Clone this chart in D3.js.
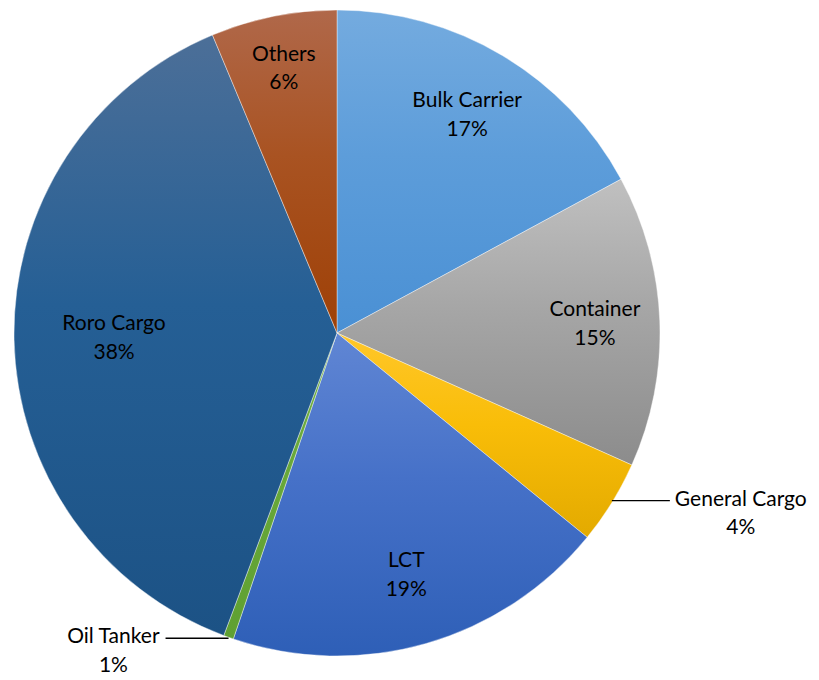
<!DOCTYPE html>
<html>
<head>
<meta charset="utf-8">
<script src="https://cdn.jsdelivr.net/npm/d3@7"></script>
<style>
  body { margin: 0; background: #fff; }
  svg text { font-family: Lato, "Open Sans", sans-serif; fill: #000; }
</style>
</head>
<body>
<div id="chart"></div>
<script>
// Chart data: share of vessel types (percent)
var categories = ["Bulk Carrier", "Container", "General Cargo", "LCT", "Oil Tanker", "Roro Cargo", "Others"];
var shares = [17.1, 14.6, 4.2, 19.3, 0.5, 38.0, 6.3];
var outsideLabels = ["General Cargo", "Oil Tanker"];

// gradient stops (top, middle, bottom) for each slice
var colorTop = ["#74abdf", "#c0c0c0", "#ffc72a", "#6086d4", "#72b043", "#4c6f98", "#b0684a"];
var colorMid = ["#5d9dda", "#a6a6a6", "#f9bd08", "#4671c8", "#68a83a", "#255f95", "#a95322"];
var colorBottom = ["#4a90d4", "#8c8c8c", "#e3aa00", "#2e5fb7", "#5fa032", "#1c5285", "#9e4006"];

function drawPie() {
    var w = 819, h = 680;
    var cx = 337, cy = 333, radius = 323;

    var svg = d3.select("#chart").append("svg")
        .attr("width", w)
        .attr("height", h);

    var defs = svg.append("defs");
    categories.forEach(function(c, i) {
        var g = defs.append("linearGradient")
            .attr("id", "grad" + i)
            .attr("x1", 0).attr("y1", 0)
            .attr("x2", 0).attr("y2", 1);
        g.append("stop").attr("offset", "0%").attr("stop-color", colorTop[i]);
        g.append("stop").attr("offset", "45%").attr("stop-color", colorMid[i]);
        g.append("stop").attr("offset", "100%").attr("stop-color", colorBottom[i]);
    });

    var data = categories.map(function(c, i) { return { name: c, value: shares[i], idx: i }; });

    var pie = d3.pie().sort(null).value(function(d) { return d.value; });
    var arc = d3.arc().innerRadius(0).outerRadius(radius);

    // bigger slices get their label a bit nearer the centre (like Excel's best fit)
    function labelPos(d) {
        var r = 280 - 1.5 * d.data.value;
        return d3.arc().innerRadius(r).outerRadius(r).centroid(d);
    }

    var g = svg.append("g").attr("transform", "translate(" + cx + "," + cy + ")");
    var arcs = pie(data);

    g.selectAll("path.slice")
        .data(arcs)
        .enter().append("path")
        .attr("class", "slice")
        .attr("d", arc)
        .attr("fill", function(d) { return "url(#grad" + d.data.idx + ")"; })
        .attr("stroke", "#ffffff")
        .attr("stroke-width", 0.4);

    var fs = 21, lineGap = 28.5;

    // labels inside the slices
    var inside = arcs.filter(function(d) { return outsideLabels.indexOf(d.data.name) < 0; });
    var lab = g.selectAll("text.inlabel")
        .data(inside)
        .enter().append("text")
        .attr("class", "inlabel")
        .attr("text-anchor", "middle")
        .attr("font-size", fs + "px")
        .attr("transform", function(d) { return "translate(" + labelPos(d) + ")"; });
    lab.append("tspan").attr("x", 0).attr("y", -7).text(function(d) { return d.data.name; });
    lab.append("tspan").attr("x", 0).attr("y", -7 + lineGap).text(function(d) { return Math.round(d.data.value) + "%"; });

    // labels outside with leader lines
    var outside = arcs.filter(function(d) { return outsideLabels.indexOf(d.data.name) >= 0; });
    outside.forEach(function(d) {
        var mid = (d.startAngle + d.endAngle) / 2;
        var px = Math.sin(mid) * radius, py = -Math.cos(mid) * radius;
        var right = px > 0;
        var ly = py + (right ? -2 : 1);
        var ex = px + (right ? 58 : -63);
        g.append("line")
            .attr("x1", px).attr("y1", ly)
            .attr("x2", ex).attr("y2", ly)
            .attr("stroke", "#000")
            .attr("stroke-width", 1.3);
        var t = g.append("text")
            .attr("text-anchor", "middle")
            .attr("font-size", fs + "px");
        var t1 = t.append("tspan").attr("y", ly + 5).text(d.data.name);
        var tw = t1.node().getComputedTextLength();
        var tx = right ? ex + 5 + tw / 2 : ex - 6 - tw / 2;
        t1.attr("x", tx);
        t.append("tspan").attr("x", tx).attr("y", ly + 5 + lineGap).text(Math.round(d.data.value) + "%");
    });
}

window.onload = drawPie;
</script>
</body>
</html>
